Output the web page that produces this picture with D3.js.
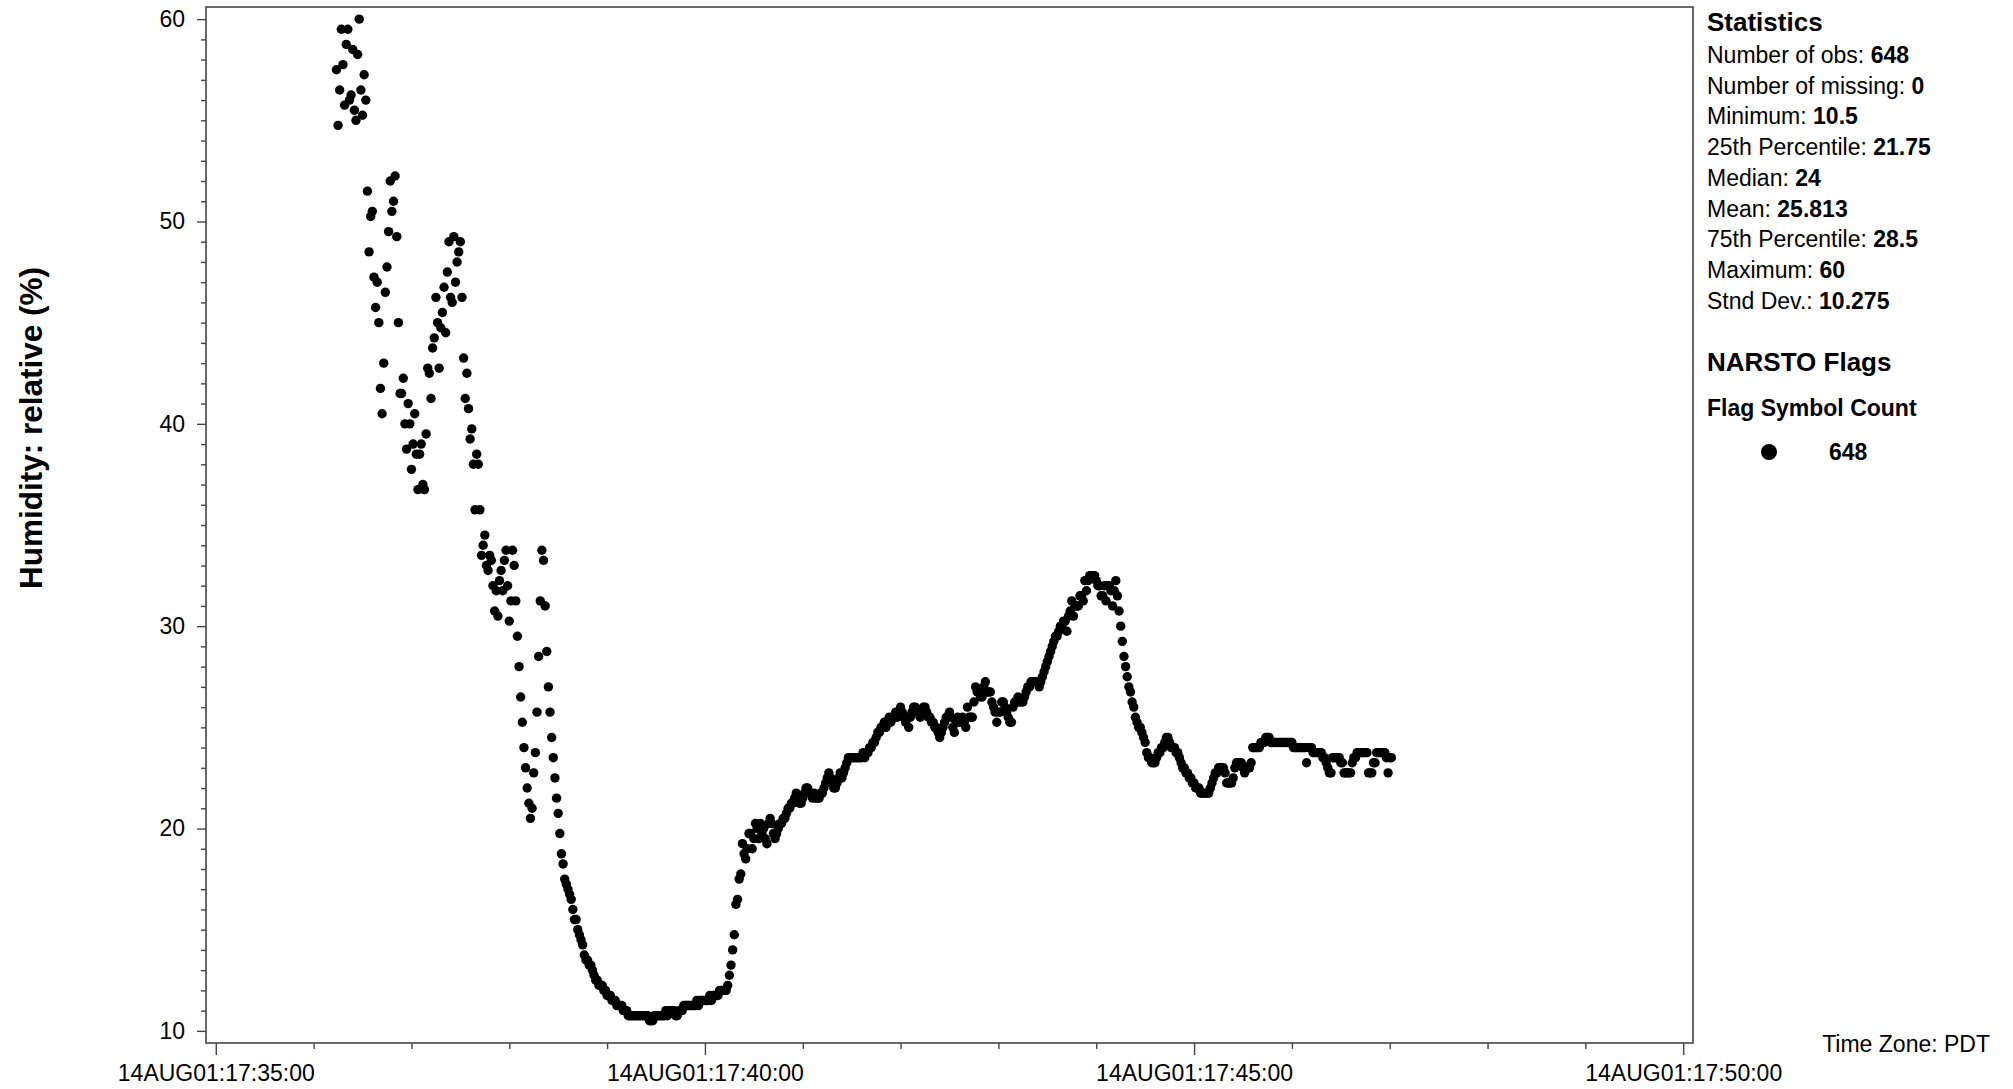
<!DOCTYPE html>
<html>
<head>
<meta charset="utf-8">
<script src="https://cdn.jsdelivr.net/npm/d3@7"></script>
<style>
  html, body { margin: 0; padding: 0; background: #fff; }
  svg { display: block; font-family: "Liberation Sans", Arial, Helvetica, sans-serif; }
</style>
</head>
<body>
<svg id="chart" width="2013" height="1089"></svg>
<script>
// ---- Time axis -------------------------------------------------------------
const firstObsTime = "2001-08-14T17:36:14";   // one observation per second
const xDomainTimes = ["2001-08-14T17:34:54", "2001-08-14T17:50:06"];
const xMajorTicks = ["2001-08-14T17:35:00", "2001-08-14T17:40:00",
                     "2001-08-14T17:45:00", "2001-08-14T17:50:00"];
const xMinorRange = ["2001-08-14T17:35:00", "2001-08-14T17:50:00"];

// ---- Humidity axis ---------------------------------------------------------
const yDomain = [9.4, 60.6];
const yMajorTicks = [10, 20, 30, 40, 50, 60];

// ---- Relative humidity (%), 1-second samples --------------------------------
const rhOpening = [57.5, 54.75, 56.5, 59.5, 57.75, 55.75, 58.75, 59.5, 56, 56.25,
  58.5, 55.5, 55, 58.25, 60, 56.5, 55.25, 57.25, 56];

const rhFirstSwing = [51.5, 48.5, 50.25, 50.5, 47.25, 45.75, 47, 45, 41.75, 40.5,
  43, 46.5, 47.75, 49.5, 52, 50.5, 51, 52.25, 49.25, 45,
  41.5, 41.5, 42.25, 40, 38.75, 41, 40, 37.75, 39, 40.5,
  38.5, 36.75, 38.5, 39, 37, 36.75];

const rhSecondSwing = [39.5, 42.75, 42.5, 41.25, 43.75, 44.25, 46.25, 45, 42.75, 44.75,
  45.5, 46.75, 44.5, 47.5, 49, 46.25, 46, 49.25, 47, 48,
  48.5, 49, 46.25, 43.25, 41.25, 42.5, 40.75, 39.25, 39.75, 38,
  35.75, 38.5, 38, 35.75, 33.5, 34, 34.5, 33, 32.75, 33.5,
  33.25, 32, 30.75, 31.75, 30.5, 32.25, 32.75, 31.75, 33.25, 33.75,
  32, 30.25, 31.25, 33.75, 33, 31.25, 29.5, 28, 26.5, 25.25,
  24, 23, 22, 21.25, 20.5, 21, 22.75, 23.75, 25.75, 28.5,
  31.25, 33.75, 33.25, 31, 28.75, 27, 25.75, 24.5, 23.5];

const rhDropAndTrough = [22.5, 21.5, 20.75, 19.75, 18.75, 18.25, 17.5,
  17.25, 17, 16.75, 16.5, 16, 15.5, 15.5, 15, 14.75, 14.5,
  14.25, 13.75, 13.5, 13.5, 13.25, 13.25, 13, 12.75, 12.5, 12.5,
  12.25, 12.25, 12.25, 12, 12, 11.75, 11.75, 11.75, 11.5, 11.5,
  11.5, 11.25, 11.25, 11.25, 11.25, 11, 11, 11, 10.75, 10.75,
  10.75, 10.75, 10.75, 10.75, 10.75, 10.75, 10.75, 10.75, 10.75, 10.75,
  10.75, 10.5, 10.5, 10.5, 10.75, 10.75, 10.75, 10.75, 10.75, 10.75,
  10.75, 11, 10.75, 11, 11, 11, 11, 10.75, 10.75, 11,
  11, 11, 11.25, 11.25, 11.25, 11.25, 11.25, 11.25, 11.25, 11.25,
  11.5, 11.25, 11.5, 11.5, 11.5, 11.5, 11.5, 11.5, 11.75, 11.5,
  11.75, 11.75, 11.75, 11.75, 12, 12, 12, 12, 12, 12.25];

const rhRecovery = [12.75, 13.25, 14, 14.75, 16.25, 16.5, 17.5, 17.75, 19.25, 18.75,
  18.5, 19, 19.75, 19.75, 19, 19.5, 20.25, 20, 19.5, 20.25,
  19.75, 20, 19.5, 19.25, 20.25, 20.5, 20.25, 19.75, 19.5, 19.75,
  20, 20.25, 20.25, 20.5, 20.5, 20.75, 21, 21, 21.25, 21.25,
  21.5, 21.75, 21.5, 21.25, 21.25, 21.5, 21.75, 22, 22, 21.75,
  21.75, 21.5, 21.75, 21.5, 21.5, 21.5, 21.75, 21.75, 22, 22.25,
  22.5, 22.75, 22.5, 22.25, 22, 22, 22.25, 22.5, 22.75, 22.5,
  22.75, 23, 23.25, 23.5, 23.5, 23.5, 23.5, 23.5, 23.5, 23.5,
  23.5, 23.5, 23.75, 23.5, 23.75, 23.75, 24, 24, 24.25, 24.25,
  24.5, 24.75, 24.75, 25, 25, 25.25, 25, 25.25, 25.5, 25.25,
  25.5, 25.5, 25.75, 25.5, 25.75, 26, 25.75, 25.5, 25.25, 25.5,
  25, 25.5, 25.75, 26, 26, 25.75, 25.75, 25.5, 25.75, 26,
  26, 25.75, 25.5, 25.5, 25.25, 25.25, 25, 25, 24.75, 24.5,
  24.75, 25, 25.25, 25.5, 25.5, 25.75, 25.5, 25, 24.75, 25.25,
  25.5, 25.25, 25.25, 25.5, 25.25, 25, 26, 25.5, 25.5, 25.5,
  26.25, 27, 26.75, 26.75, 26.5, 26.5, 27, 27.25, 26.75, 26.75,
  26.75, 26.25, 26, 25.75, 25.25, 25.75, 25.75, 26.25, 26.25, 26,
  25.75, 25.5, 25.25, 25.25, 26, 26.25, 26.25, 26.5, 26.25, 26.25];

const rhSecondPeak = [26.25, 26.5, 26.75, 27, 27, 27.25, 27.25, 27.25, 27.25, 27.25,
  27, 27.25, 27.5, 27.75, 28, 28.25, 28.5, 28.75, 29, 29.25,
  29.5, 29.5, 29.75, 30, 30, 30.25, 30.25, 29.75, 30.5, 30.75,
  31.25, 30.5, 31, 31, 31, 31.5, 31.5, 31.25, 32.25, 31.75,
  32.25, 32.5, 32.5, 32.5, 32.5, 32.25, 32, 32, 31.5, 31.5,
  32, 31.25, 32, 32, 31.75, 31, 31.75, 32.25, 31.5, 30.75,
  30, 29.25, 28.5, 28, 27.5, 27, 26.75, 26.25, 26, 25.5,
  25.25, 25, 25, 24.75, 24.5, 24.25, 23.75, 23.5, 23.5, 23.25,
  23.25, 23.25, 23.5, 23.75, 23.75, 24, 24, 24.25, 24.5, 24.5,
  24.25, 24, 24, 24, 23.75, 23.75, 23.5, 23.25, 23, 23,
  22.75, 22.75, 22.5, 22.5, 22.25, 22.25, 22, 22, 22, 21.75,
  21.75, 21.75, 21.75, 21.75, 21.75, 22, 22.25, 22.5, 22.75, 22.75,
  23, 23, 23, 23, 22.75, 22.25, 22.25, 22.25, 22.25, 22.5];

const rhClosing = [23, 23.25, 23.25, 23.25, 23.25, 23, 22.75, 23, 23, 23,
  23.25, 24, 24, 24, 24, 24, 24.25, 24.25, 24.25, 24.5,
  24.5, 24.5, 24.25, 24.25, 24.25, 24.25, 24.25, 24.25, 24.25, 24.25,
  24.25, 24.25, 24.25, 24.25, 24.25, 24.25, 24, 24, 24, 24,
  24, 24, 24, 24, 23.25, 24, 24, 24, 23.75, 23.75,
  23.75, 23.75, 23.75, 23.75, 23.5, 23.5, 23.25, 23, 22.75, 22.75,
  23.5, 23.5, 23.5, 23.5, 23.5, 23.25, 23.25, 22.75, 22.75, 22.75,
  22.75, 22.75, 23.25, 23.5, 23.5, 23.75, 23.75, 23.75, 23.75, 23.75,
  23.75, 23.75, 22.75, 22.75, 22.75, 23.25, 23.25, 23.75, 23.75, 23.75,
  23.75, 23.75, 23.75, 23.5, 22.75, 23.5, 23.5];

// ---- Summary panel ---------------------------------------------------------
const statLabels = ["Number of obs", "Number of missing", "Minimum", "25th Percentile",
  "Median", "Mean", "75th Percentile", "Maximum", "Stnd Dev."];
const statValues = ["648", "0", "10.5", "21.75", "24", "25.813", "28.5", "60", "10.275"];
const flagSymbolCounts = [648];

// ---------------------------------------------------------------------------
const parseTime = d3.timeParse("%Y-%m-%dT%H:%M:%S");
const rh = [].concat(rhOpening, rhFirstSwing, rhSecondSwing, rhDropAndTrough,
                     rhRecovery, rhSecondPeak, rhClosing);
const t0 = parseTime(firstObsTime);
const obs = rh.map((v, i) => ({ time: d3.timeSecond.offset(t0, i), value: v }));

const frame = { left: 206, top: 7, right: 1693, bottom: 1043 };

const x = d3.scaleTime()
  .domain(xDomainTimes.map(parseTime))
  .range([frame.left, frame.right]);
const y = d3.scaleLinear()
  .domain(yDomain)
  .range([frame.bottom, frame.top]);

const svg = d3.select("#chart");
const tickColor = "#444";
const fontMain = 23;

// plot frame
svg.append("rect")
  .attr("x", frame.left).attr("y", frame.top)
  .attr("width", frame.right - frame.left).attr("height", frame.bottom - frame.top)
  .attr("fill", "none").attr("stroke", "#444").attr("stroke-width", 1.6);

// y axis: major ticks with labels, minor ticks every unit
const yMajor = svg.append("g")
  .attr("transform", `translate(${frame.left},0)`)
  .call(d3.axisLeft(y).tickValues(yMajorTicks).tickSize(9).tickPadding(12)
        .tickFormat(d3.format("d")));
const yMinor = svg.append("g")
  .attr("transform", `translate(${frame.left},0)`)
  .call(d3.axisLeft(y)
        .tickValues(d3.range(yMajorTicks[0], yMajorTicks[yMajorTicks.length - 1])
                      .filter(v => !yMajorTicks.includes(v)))
        .tickSize(5).tickFormat(""));

// x axis: labelled 5-minute ticks, minor ticks every minute
const fmtTime = d3.timeFormat("%d%b%y:%H:%M:%S");
const xMajor = svg.append("g")
  .attr("transform", `translate(0,${frame.bottom})`)
  .call(d3.axisBottom(x).tickValues(xMajorTicks.map(parseTime)).tickSize(12).tickPadding(10)
        .tickFormat(d => fmtTime(d).toUpperCase()));
const minorTimes = d3.timeMinute.range(parseTime(xMinorRange[0]), parseTime(xMinorRange[1]))
  .filter(d => d.getMinutes() % 5 !== 0);
const xMinor = svg.append("g")
  .attr("transform", `translate(0,${frame.bottom})`)
  .call(d3.axisBottom(x).tickValues(minorTimes).tickSize(6).tickFormat(""));

[yMajor, yMinor, xMajor, xMinor].forEach(g => {
  g.select(".domain").remove();
  g.selectAll(".tick line").attr("stroke", tickColor).attr("stroke-width", 1.4);
  g.selectAll(".tick text")
    .attr("fill", "#000")
    .style("font-family", '"Liberation Sans", Arial, sans-serif')
    .style("font-size", fontMain + "px");
});

// y axis title
svg.append("text")
  .attr("transform", `translate(31,${(frame.top + frame.bottom) / 2 - 97}) rotate(-90)`)
  .attr("text-anchor", "middle")
  .attr("dominant-baseline", "central")
  .style("font-size", "31.5px").style("font-weight", "bold")
  .text("Humidity: relative (%)");

// observations
svg.append("g")
  .selectAll("circle")
  .data(obs)
  .join("circle")
  .attr("cx", d => x(d.time))
  .attr("cy", d => y(d.value))
  .attr("r", 4.7)
  .attr("fill", "#000");

// time zone note
svg.append("text")
  .attr("x", 1990).attr("y", 1052)
  .attr("text-anchor", "end")
  .style("font-size", fontMain + "px")
  .text("Time Zone: PDT");

// statistics panel
const panelX = 1707;
svg.append("text")
  .attr("x", panelX).attr("y", 31)
  .style("font-size", "26px").style("font-weight", "bold")
  .text("Statistics");

const statRows = svg.append("g").selectAll("text")
  .data(statLabels.map((label, i) => ({ label, value: statValues[i] })))
  .join("text")
  .attr("x", panelX)
  .attr("y", (d, i) => 63 + i * 30.7)
  .style("font-size", fontMain + "px");
statRows.append("tspan").text(d => d.label + ": ");
statRows.append("tspan").style("font-weight", "bold").text(d => d.value);

svg.append("text")
  .attr("x", panelX).attr("y", 371)
  .style("font-size", "26px").style("font-weight", "bold")
  .text("NARSTO Flags");
svg.append("text")
  .attr("x", panelX).attr("y", 416)
  .style("font-size", fontMain + "px").style("font-weight", "bold")
  .text("Flag Symbol Count");

const flagRows = svg.append("g").selectAll("g")
  .data(flagSymbolCounts)
  .join("g")
  .attr("transform", (d, i) => `translate(0,${452 + i * 34})`);
flagRows.append("circle").attr("cx", 1769).attr("cy", 0).attr("r", 8).attr("fill", "#000");
flagRows.append("text")
  .attr("x", 1829).attr("y", 8)
  .style("font-size", fontMain + "px").style("font-weight", "bold")
  .text(d => d);
</script>
</body>
</html>
